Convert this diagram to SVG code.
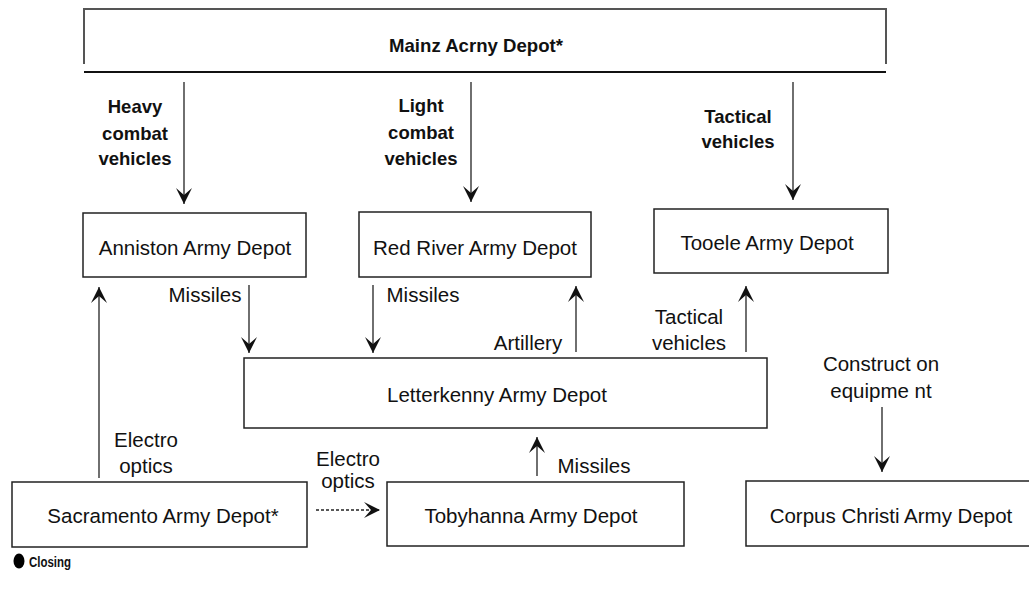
<svg xmlns="http://www.w3.org/2000/svg" width="1029" height="596" viewBox="0 0 1029 596">
<style>
.box{fill:#fff;stroke:#222;stroke-width:1.5}
.lbl{font-family:"Liberation Sans",Arial,sans-serif;font-size:20.5px;fill:#111;text-anchor:middle}
.bl{font-family:"Liberation Sans",Arial,sans-serif;font-size:18.5px;font-weight:bold;fill:#111;text-anchor:middle}
.conn{stroke:#222;stroke-width:1.3;fill:none}
.dash{stroke-dasharray:3 2}
</style>
<defs>
<marker id="ah" markerUnits="userSpaceOnUse" viewBox="0 0 16 16" markerWidth="16" markerHeight="16" refX="16" refY="8" orient="auto">
<path d="M0,0 L16,8 L0,16 L7,8 Z" fill="#111"/>
</marker>
</defs>
<rect width="1029" height="596" fill="#fff"/>
<g id="node-mainz">
<path d="M84,64 V9 H886 V64" fill="none" stroke="#555" stroke-width="2"/>
<line x1="84" y1="72" x2="886" y2="72" stroke="#111" stroke-width="2"/>
<text class="bl" x="476" y="52" font-size="19" textLength="174" lengthAdjust="spacingAndGlyphs">Mainz Acrny Depot*</text>
</g>
<g id="node-anniston">
<rect class="box" x="83" y="213" width="223" height="64"/>
<text class="lbl" x="195" y="255">Anniston Army Depot</text>
</g>
<g id="node-redriver">
<rect class="box" x="359" y="212" width="232" height="65"/>
<text class="lbl" x="475" y="255">Red River Army Depot</text>
</g>
<g id="node-tooele">
<rect class="box" x="654" y="209" width="234" height="64"/>
<text class="lbl" x="767" y="250">Tooele Army Depot</text>
</g>
<g id="node-letterkenny">
<rect class="box" x="244" y="358" width="523" height="70"/>
<text class="lbl" x="497" y="402">Letterkenny Army Depot</text>
</g>
<g id="node-sacramento">
<rect class="box" x="12" y="482" width="295" height="65"/>
<text class="lbl" x="163" y="523">Sacramento Army Depot*</text>
</g>
<g id="node-tobyhanna">
<rect class="box" x="387" y="482" width="297" height="64"/>
<text class="lbl" x="531" y="523">Tobyhanna Army Depot</text>
</g>
<g id="node-corpus">
<rect class="box" x="746" y="481" width="290" height="65"/>
<text class="lbl" x="891" y="523">Corpus Christi Army Depot</text>
</g>
<g id="connectors">
<line class="conn" x1="184" y1="82" x2="184" y2="204" marker-end="url(#ah)"/>
<line class="conn" x1="471" y1="82" x2="471" y2="202" marker-end="url(#ah)"/>
<line class="conn" x1="793" y1="82" x2="793" y2="200" marker-end="url(#ah)"/>
<line class="conn" x1="249" y1="285" x2="249" y2="353" marker-end="url(#ah)"/>
<line class="conn" x1="373" y1="285" x2="373" y2="353" marker-end="url(#ah)"/>
<line class="conn" x1="576" y1="352" x2="576" y2="286" marker-end="url(#ah)"/>
<line class="conn" x1="746" y1="352" x2="746" y2="286" marker-end="url(#ah)"/>
<line class="conn" x1="882" y1="407" x2="882" y2="472" marker-end="url(#ah)"/>
<line class="conn" x1="537" y1="476" x2="537" y2="437" marker-end="url(#ah)"/>
<line class="conn" x1="99" y1="478" x2="99" y2="287" marker-end="url(#ah)"/>
<line class="conn dash" x1="316" y1="510" x2="380" y2="510" marker-end="url(#ah)"/>
</g>
<g id="labels">
<text class="bl" x="135" y="113">Heavy</text>
<text class="bl" x="135" y="140">combat</text>
<text class="bl" x="135" y="165">vehicles</text>
<text class="bl" x="421" y="112">Light</text>
<text class="bl" x="421" y="139">combat</text>
<text class="bl" x="421" y="165">vehicles</text>
<text class="bl" x="738" y="123">Tactical</text>
<text class="bl" x="738" y="148">vehicles</text>
<text class="lbl" x="205" y="302">Missiles</text>
<text class="lbl" x="423" y="302">Missiles</text>
<text class="lbl" x="528" y="350">Artillery</text>
<text class="lbl" x="689" y="324">Tactical</text>
<text class="lbl" x="689" y="350">vehicles</text>
<text class="lbl" x="881" y="371">Construct on</text>
<text class="lbl" x="881" y="398">equipme nt</text>
<text class="lbl" x="146" y="447">Electro</text>
<text class="lbl" x="146" y="473">optics</text>
<text class="lbl" x="348" y="466">Electro</text>
<text class="lbl" x="348" y="488">optics</text>
<text class="lbl" x="594" y="473">Missiles</text>
</g>
<g id="legend">
<ellipse cx="19" cy="561" rx="5.5" ry="7.5" fill="#000"/>
<text x="29" y="567" font-family="'Liberation Sans',Arial,sans-serif" font-weight="bold" font-size="14" textLength="42" lengthAdjust="spacingAndGlyphs" fill="#111">Closing</text>
</g>
</svg>
